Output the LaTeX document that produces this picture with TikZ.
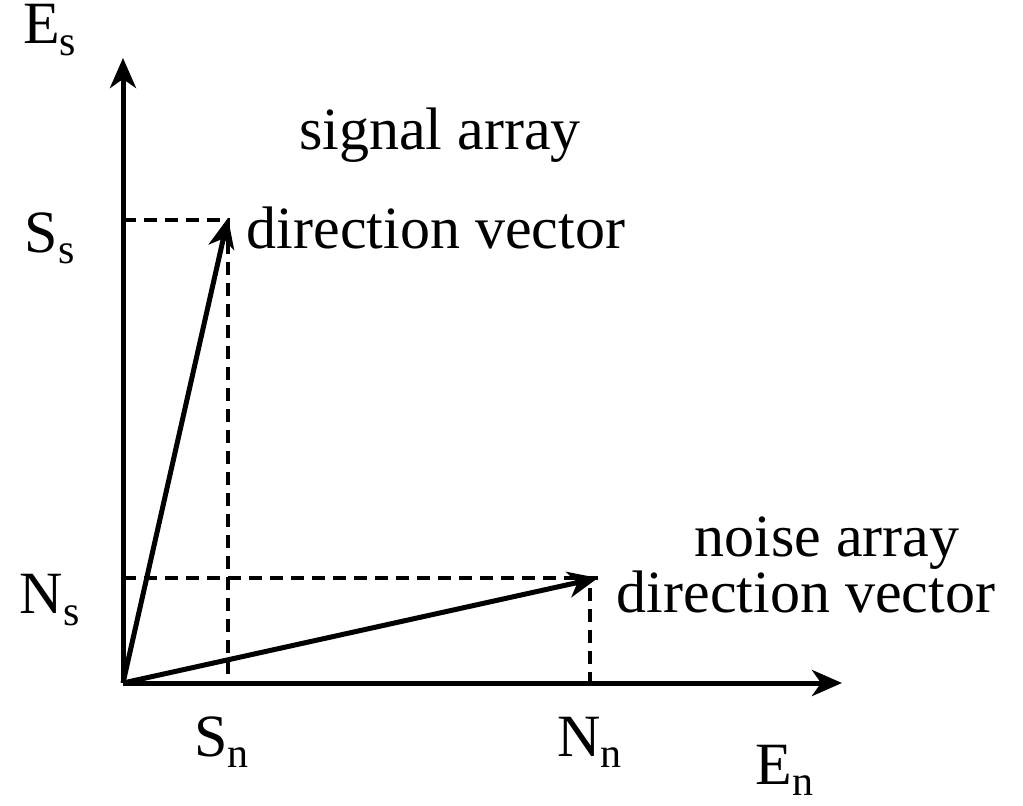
\documentclass[tikz,border=0pt]{standalone}
\usepackage{fontspec}
\setmainfont{Liberation Serif}
\usetikzlibrary{arrows.meta}
\begin{document}
\begin{tikzpicture}[x=1pt,y=-1pt,
  ax/.style={line width=5pt,-{Stealth[length=30pt,width=26pt,inset=9pt]}},
  dsh/.style={line width=3.5pt,dash pattern=on 13pt off 8pt},
  lab/.style={font=\fontsize{60}{64}\selectfont,inner sep=0pt}]
\useasboundingbox (0,0) rectangle (1023,806);
\coordinate (O) at (123,683);
\coordinate (ytop) at (123,58);
\coordinate (xend) at (842,683);
\coordinate (S) at (228,218);
\coordinate (N) at (598,578);
\coordinate (Sy) at (123,220);
\coordinate (Sx) at (228,683);
\coordinate (Ny) at (123,578);
\coordinate (Nx) at (590,683);
\draw[dsh] (Sy) -- (228,220) -- (Sx);
\draw[dsh] (Ny) -- (N);
\draw[dsh] (590,588) -- (Nx);
\draw[ax] (O) -- (ytop);
\draw[ax] (O) -- (xend);
\draw[ax] (O) -- (S);
\draw[ax] (O) -- (N);
\node[lab] (es) at (50,30) {E\textsubscript{s}};
\node[lab] (ss) at (50,238) {S\textsubscript{s}};
\node[lab] (ns) at (50,600) {N\textsubscript{s}};
\node[lab] (sn) at (222,742) {S\textsubscript{n}};
\node[lab] (nn) at (590,742) {N\textsubscript{n}};
\node[lab] (en) at (785,770) {E\textsubscript{n}};
\node[lab] (sa) at (440,135) {signal array};
\node[lab] (sd) at (436,228) {direction vector};
\node[lab] (na) at (827,543) {noise array};
\node[lab] (nd) at (806,592) {direction vector};
\end{tikzpicture}
\end{document}
